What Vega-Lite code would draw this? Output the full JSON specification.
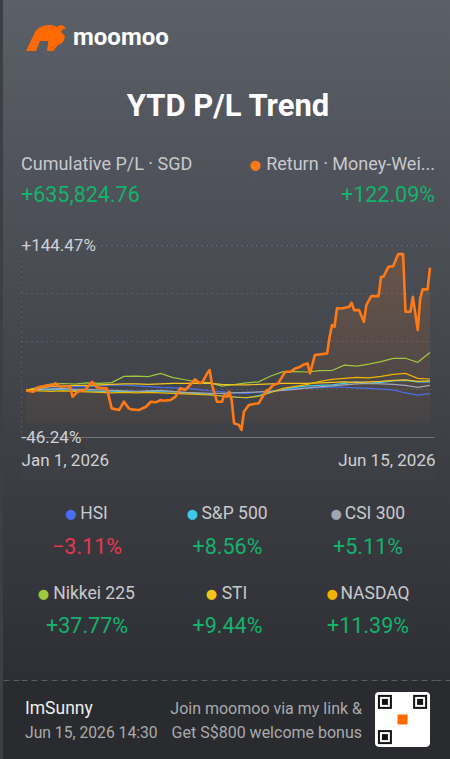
{
"$schema": "https://vega.github.io/schema/vega-lite/v6.json",
"padding": 0,
"background": "#3d3f45",
"spacing": 0,
"bounds": "flush",
"columns": 3,
"config": {"font": "Roboto", "view": {"stroke": null}, "text": {"font": "Roboto"}, "axis": {"labelFont": "Roboto"}},
"datasets": {
"ret": [
{"date":"2026-01-01","value":0},{"date":"2026-01-04","value":-1.3},{"date":"2026-01-06","value":3.1},{"date":"2026-01-09","value":4.7},{"date":"2026-01-12","value":5.4},{"date":"2026-01-13","value":7.1},{"date":"2026-01-15","value":3.7},{"date":"2026-01-17","value":4.4},{"date":"2026-01-19","value":3.7},{"date":"2026-01-20","value":-6.3},{"date":"2026-01-22","value":-1.3},{"date":"2026-01-25","value":0.4},{"date":"2026-01-28","value":8.6},{"date":"2026-01-30","value":3.1},{"date":"2026-02-01","value":2.1},{"date":"2026-02-03","value":2.1},{"date":"2026-02-05","value":-17.8},{"date":"2026-02-08","value":-19.5},{"date":"2026-02-10","value":-11.2},{"date":"2026-02-12","value":-17.8},{"date":"2026-02-13","value":-18.8},{"date":"2026-02-16","value":-19.5},{"date":"2026-02-19","value":-16.2},{"date":"2026-02-21","value":-11.2},{"date":"2026-02-23","value":-11.8},{"date":"2026-02-25","value":-9.5},{"date":"2026-02-26","value":-10.2},{"date":"2026-03-01","value":-9.5},{"date":"2026-03-03","value":-6.3},{"date":"2026-03-05","value":2.1},{"date":"2026-03-07","value":0.4},{"date":"2026-03-09","value":5.4},{"date":"2026-03-11","value":11},{"date":"2026-03-13","value":7.1},{"date":"2026-03-14","value":8},{"date":"2026-03-16","value":17},{"date":"2026-03-17","value":20.3},{"date":"2026-03-18","value":5.4},{"date":"2026-03-20","value":-11.2},{"date":"2026-03-22","value":-11.2},{"date":"2026-03-23","value":-4.6},{"date":"2026-03-24","value":-6.3},{"date":"2026-03-25","value":-1.3},{"date":"2026-03-26","value":-9.5},{"date":"2026-03-27","value":-32.7},{"date":"2026-03-29","value":-34.4},{"date":"2026-03-30","value":-39.3},{"date":"2026-03-31","value":-21.2},{"date":"2026-04-02","value":-14.5},{"date":"2026-04-04","value":-13.5},{"date":"2026-04-06","value":-12.8},{"date":"2026-04-08","value":-4.6},{"date":"2026-04-09","value":-0.3},{"date":"2026-04-10","value":0.4},{"date":"2026-04-12","value":5.4},{"date":"2026-04-14","value":7.1},{"date":"2026-04-16","value":15.3},{"date":"2026-04-17","value":18.6},{"date":"2026-04-19","value":18.6},{"date":"2026-04-21","value":21.9},{"date":"2026-04-23","value":23.5},{"date":"2026-04-24","value":25.2},{"date":"2026-04-26","value":26.9},{"date":"2026-04-27","value":17},{"date":"2026-04-29","value":35.2},{"date":"2026-05-02","value":36.1},{"date":"2026-05-04","value":36.8},{"date":"2026-05-05","value":53.3},{"date":"2026-05-06","value":65},{"date":"2026-05-07","value":63.3},{"date":"2026-05-08","value":81.5},{"date":"2026-05-10","value":81.5},{"date":"2026-05-13","value":83.1},{"date":"2026-05-14","value":87.1},{"date":"2026-05-15","value":79.8},{"date":"2026-05-17","value":79.8},{"date":"2026-05-19","value":68.2},{"date":"2026-05-20","value":84.8},{"date":"2026-05-22","value":93.7},{"date":"2026-05-25","value":93.7},{"date":"2026-05-26","value":112.9},{"date":"2026-05-27","value":112.9},{"date":"2026-05-29","value":122.8},{"date":"2026-05-31","value":123.5},{"date":"2026-06-02","value":135.4},{"date":"2026-06-04","value":135.4},{"date":"2026-06-05","value":78.1},{"date":"2026-06-07","value":78.1},{"date":"2026-06-08","value":93},{"date":"2026-06-10","value":60},{"date":"2026-06-11","value":91.5},{"date":"2026-06-12","value":100.4},{"date":"2026-06-14","value":100.4},{"date":"2026-06-15","value":122.09}
],
"idx": [
{"date":"2026-01-01","index":"HSI","value":0},{"date":"2026-01-06","index":"HSI","value":1.5},{"date":"2026-01-11","index":"HSI","value":3.5},{"date":"2026-01-16","index":"HSI","value":3.6},{"date":"2026-01-21","index":"HSI","value":3.7},{"date":"2026-01-26","index":"HSI","value":3.8},{"date":"2026-01-31","index":"HSI","value":4.5},{"date":"2026-02-05","index":"HSI","value":5.2},{"date":"2026-02-10","index":"HSI","value":5.4},{"date":"2026-02-15","index":"HSI","value":4.5},{"date":"2026-02-20","index":"HSI","value":3.8},{"date":"2026-02-25","index":"HSI","value":3},{"date":"2026-03-02","index":"HSI","value":2.5},{"date":"2026-03-07","index":"HSI","value":2.1},{"date":"2026-03-12","index":"HSI","value":1},{"date":"2026-03-17","index":"HSI","value":-0.3},{"date":"2026-03-22","index":"HSI","value":-1.3},{"date":"2026-03-27","index":"HSI","value":-2.2},{"date":"2026-04-01","index":"HSI","value":-2.9},{"date":"2026-04-06","index":"HSI","value":-1.8},{"date":"2026-04-11","index":"HSI","value":-0.6},{"date":"2026-04-16","index":"HSI","value":0.6},{"date":"2026-04-21","index":"HSI","value":2},{"date":"2026-04-26","index":"HSI","value":2.3},{"date":"2026-05-01","index":"HSI","value":2.8},{"date":"2026-05-06","index":"HSI","value":3.5},{"date":"2026-05-11","index":"HSI","value":3.2},{"date":"2026-05-16","index":"HSI","value":2.6},{"date":"2026-05-21","index":"HSI","value":2.1},{"date":"2026-05-26","index":"HSI","value":1.3},{"date":"2026-05-31","index":"HSI","value":0.5},{"date":"2026-06-05","index":"HSI","value":-2.5},{"date":"2026-06-10","index":"HSI","value":-4.6},{"date":"2026-06-15","index":"HSI","value":-3.11},
{"date":"2026-01-01","index":"S&P 500","value":0},{"date":"2026-01-06","index":"S&P 500","value":0.5},{"date":"2026-01-11","index":"S&P 500","value":0.8},{"date":"2026-01-16","index":"S&P 500","value":0.5},{"date":"2026-01-21","index":"S&P 500","value":0},{"date":"2026-01-26","index":"S&P 500","value":-0.5},{"date":"2026-01-31","index":"S&P 500","value":-1},{"date":"2026-02-05","index":"S&P 500","value":-1.3},{"date":"2026-02-10","index":"S&P 500","value":-1},{"date":"2026-02-15","index":"S&P 500","value":-1.5},{"date":"2026-02-20","index":"S&P 500","value":-1},{"date":"2026-02-25","index":"S&P 500","value":-1.3},{"date":"2026-03-02","index":"S&P 500","value":-1.5},{"date":"2026-03-07","index":"S&P 500","value":-2.5},{"date":"2026-03-12","index":"S&P 500","value":-3},{"date":"2026-03-17","index":"S&P 500","value":-4},{"date":"2026-03-22","index":"S&P 500","value":-5.5},{"date":"2026-03-27","index":"S&P 500","value":-6.5},{"date":"2026-04-01","index":"S&P 500","value":-7.5},{"date":"2026-04-06","index":"S&P 500","value":-5},{"date":"2026-04-11","index":"S&P 500","value":-1.5},{"date":"2026-04-16","index":"S&P 500","value":1},{"date":"2026-04-21","index":"S&P 500","value":3},{"date":"2026-04-26","index":"S&P 500","value":4.5},{"date":"2026-05-01","index":"S&P 500","value":5},{"date":"2026-05-06","index":"S&P 500","value":5.5},{"date":"2026-05-11","index":"S&P 500","value":7},{"date":"2026-05-16","index":"S&P 500","value":8.5},{"date":"2026-05-21","index":"S&P 500","value":7},{"date":"2026-05-26","index":"S&P 500","value":8},{"date":"2026-05-31","index":"S&P 500","value":9.5},{"date":"2026-06-05","index":"S&P 500","value":10},{"date":"2026-06-10","index":"S&P 500","value":8.5},{"date":"2026-06-15","index":"S&P 500","value":8.56},
{"date":"2026-01-01","index":"CSI 300","value":0},{"date":"2026-01-06","index":"CSI 300","value":1},{"date":"2026-01-11","index":"CSI 300","value":1.5},{"date":"2026-01-16","index":"CSI 300","value":2},{"date":"2026-01-21","index":"CSI 300","value":1},{"date":"2026-01-26","index":"CSI 300","value":1},{"date":"2026-01-31","index":"CSI 300","value":0.5},{"date":"2026-02-05","index":"CSI 300","value":0},{"date":"2026-02-10","index":"CSI 300","value":-0.5},{"date":"2026-02-15","index":"CSI 300","value":-1},{"date":"2026-02-20","index":"CSI 300","value":-0.5},{"date":"2026-02-25","index":"CSI 300","value":0},{"date":"2026-03-02","index":"CSI 300","value":-1},{"date":"2026-03-07","index":"CSI 300","value":-2},{"date":"2026-03-12","index":"CSI 300","value":-2.5},{"date":"2026-03-17","index":"CSI 300","value":-3},{"date":"2026-03-22","index":"CSI 300","value":-3},{"date":"2026-03-27","index":"CSI 300","value":-2.5},{"date":"2026-04-01","index":"CSI 300","value":-2},{"date":"2026-04-06","index":"CSI 300","value":-1.5},{"date":"2026-04-11","index":"CSI 300","value":-1},{"date":"2026-04-16","index":"CSI 300","value":0},{"date":"2026-04-21","index":"CSI 300","value":1},{"date":"2026-04-26","index":"CSI 300","value":2.5},{"date":"2026-05-01","index":"CSI 300","value":3.5},{"date":"2026-05-06","index":"CSI 300","value":4.5},{"date":"2026-05-11","index":"CSI 300","value":5.5},{"date":"2026-05-16","index":"CSI 300","value":6.5},{"date":"2026-05-21","index":"CSI 300","value":7},{"date":"2026-05-26","index":"CSI 300","value":6.5},{"date":"2026-05-31","index":"CSI 300","value":6},{"date":"2026-06-05","index":"CSI 300","value":5},{"date":"2026-06-10","index":"CSI 300","value":3},{"date":"2026-06-15","index":"CSI 300","value":5.11},
{"date":"2026-01-01","index":"Nikkei 225","value":0},{"date":"2026-01-06","index":"Nikkei 225","value":3.4},{"date":"2026-01-11","index":"Nikkei 225","value":6.4},{"date":"2026-01-16","index":"Nikkei 225","value":6.9},{"date":"2026-01-21","index":"Nikkei 225","value":6.4},{"date":"2026-01-26","index":"Nikkei 225","value":7.6},{"date":"2026-01-31","index":"Nikkei 225","value":7},{"date":"2026-02-05","index":"Nikkei 225","value":7.8},{"date":"2026-02-10","index":"Nikkei 225","value":14},{"date":"2026-02-15","index":"Nikkei 225","value":14.3},{"date":"2026-02-20","index":"Nikkei 225","value":13.8},{"date":"2026-02-25","index":"Nikkei 225","value":17},{"date":"2026-03-02","index":"Nikkei 225","value":12.8},{"date":"2026-03-07","index":"Nikkei 225","value":10.6},{"date":"2026-03-12","index":"Nikkei 225","value":8.3},{"date":"2026-03-17","index":"Nikkei 225","value":7.8},{"date":"2026-03-22","index":"Nikkei 225","value":4.4},{"date":"2026-03-27","index":"Nikkei 225","value":5.9},{"date":"2026-04-01","index":"Nikkei 225","value":7.5},{"date":"2026-04-06","index":"Nikkei 225","value":8.6},{"date":"2026-04-11","index":"Nikkei 225","value":14.3},{"date":"2026-04-16","index":"Nikkei 225","value":18.6},{"date":"2026-04-21","index":"Nikkei 225","value":18.6},{"date":"2026-04-26","index":"Nikkei 225","value":18.3},{"date":"2026-05-01","index":"Nikkei 225","value":19.6},{"date":"2026-05-06","index":"Nikkei 225","value":19.8},{"date":"2026-05-11","index":"Nikkei 225","value":25.2},{"date":"2026-05-16","index":"Nikkei 225","value":24.2},{"date":"2026-05-21","index":"Nikkei 225","value":26.2},{"date":"2026-05-26","index":"Nikkei 225","value":28.7},{"date":"2026-05-31","index":"Nikkei 225","value":31.9},{"date":"2026-06-05","index":"Nikkei 225","value":32},{"date":"2026-06-10","index":"Nikkei 225","value":28},{"date":"2026-06-15","index":"Nikkei 225","value":37.77},
{"date":"2026-01-01","index":"STI","value":0},{"date":"2026-01-06","index":"STI","value":2},{"date":"2026-01-11","index":"STI","value":4},{"date":"2026-01-16","index":"STI","value":4.5},{"date":"2026-01-21","index":"STI","value":5},{"date":"2026-01-26","index":"STI","value":5},{"date":"2026-01-31","index":"STI","value":5.5},{"date":"2026-02-05","index":"STI","value":6},{"date":"2026-02-10","index":"STI","value":6.5},{"date":"2026-02-15","index":"STI","value":6.5},{"date":"2026-02-20","index":"STI","value":6},{"date":"2026-02-25","index":"STI","value":6.5},{"date":"2026-03-02","index":"STI","value":7},{"date":"2026-03-07","index":"STI","value":7},{"date":"2026-03-12","index":"STI","value":7},{"date":"2026-03-17","index":"STI","value":7},{"date":"2026-03-22","index":"STI","value":6},{"date":"2026-03-27","index":"STI","value":5.5},{"date":"2026-04-01","index":"STI","value":5.5},{"date":"2026-04-06","index":"STI","value":6},{"date":"2026-04-11","index":"STI","value":6.5},{"date":"2026-04-16","index":"STI","value":7},{"date":"2026-04-21","index":"STI","value":7},{"date":"2026-04-26","index":"STI","value":7},{"date":"2026-05-01","index":"STI","value":7.5},{"date":"2026-05-06","index":"STI","value":8},{"date":"2026-05-11","index":"STI","value":8.5},{"date":"2026-05-16","index":"STI","value":8},{"date":"2026-05-21","index":"STI","value":8.5},{"date":"2026-05-26","index":"STI","value":9},{"date":"2026-05-31","index":"STI","value":10},{"date":"2026-06-05","index":"STI","value":10.5},{"date":"2026-06-10","index":"STI","value":9},{"date":"2026-06-15","index":"STI","value":9.44},
{"date":"2026-01-01","index":"NASDAQ","value":0},{"date":"2026-01-06","index":"NASDAQ","value":-0.5},{"date":"2026-01-11","index":"NASDAQ","value":-1},{"date":"2026-01-16","index":"NASDAQ","value":-0.5},{"date":"2026-01-21","index":"NASDAQ","value":-1},{"date":"2026-01-26","index":"NASDAQ","value":-1.5},{"date":"2026-01-31","index":"NASDAQ","value":-2},{"date":"2026-02-05","index":"NASDAQ","value":-2.5},{"date":"2026-02-10","index":"NASDAQ","value":-2},{"date":"2026-02-15","index":"NASDAQ","value":-2.5},{"date":"2026-02-20","index":"NASDAQ","value":-2},{"date":"2026-02-25","index":"NASDAQ","value":-2.5},{"date":"2026-03-02","index":"NASDAQ","value":-3},{"date":"2026-03-07","index":"NASDAQ","value":-3.5},{"date":"2026-03-12","index":"NASDAQ","value":-4},{"date":"2026-03-17","index":"NASDAQ","value":-4.5},{"date":"2026-03-22","index":"NASDAQ","value":-5.5},{"date":"2026-03-27","index":"NASDAQ","value":-6.5},{"date":"2026-04-01","index":"NASDAQ","value":-7},{"date":"2026-04-06","index":"NASDAQ","value":-6},{"date":"2026-04-11","index":"NASDAQ","value":-2},{"date":"2026-04-16","index":"NASDAQ","value":2},{"date":"2026-04-21","index":"NASDAQ","value":4},{"date":"2026-04-26","index":"NASDAQ","value":6},{"date":"2026-05-01","index":"NASDAQ","value":9},{"date":"2026-05-06","index":"NASDAQ","value":11},{"date":"2026-05-11","index":"NASDAQ","value":12},{"date":"2026-05-16","index":"NASDAQ","value":13},{"date":"2026-05-21","index":"NASDAQ","value":12.5},{"date":"2026-05-26","index":"NASDAQ","value":14},{"date":"2026-05-31","index":"NASDAQ","value":16},{"date":"2026-06-05","index":"NASDAQ","value":17},{"date":"2026-06-10","index":"NASDAQ","value":12},{"date":"2026-06-15","index":"NASDAQ","value":11.39}
],
"stats": [
{"index":"HSI","row":1,"col":"c1","ret":-0.0311},{"index":"S&P 500","row":1,"col":"c2","ret":0.0856},{"index":"CSI 300","row":1,"col":"c3","ret":0.0511},
{"index":"Nikkei 225","row":2,"col":"c1","ret":0.3777},{"index":"STI","row":2,"col":"c2","ret":0.0944},{"index":"NASDAQ","row":2,"col":"c3","ret":0.1139}
],
"header": [
{"side":"L","line":"label","text":"Cumulative P/L · SGD"},{"side":"R","line":"label","text":"Return · Money-Wei..."},
{"side":"L","line":"value","text":"+635,824.76"},{"side":"R","line":"value","text":"+122.09%"}
],
"footer": [
{"side":"left","line":"l1","text":"ImSunny"},{"side":"left","line":"l2","text":"Jun 15, 2026 14:30"},
{"side":"right","line":"l1","text":"Join moomoo via my link &"},{"side":"right","line":"l2","text":"Get S$800 welcome bonus"}
],
"qr": [{"qx":"a","qy":"a"},{"qx":"c","qy":"a"},{"qx":"a","qy":"c"}]
},
"concat": [
{"width":18,"height":76,"view":{"stroke":null,"fill":{"gradient":"linear","x1":0,"y1":0,"x2":0,"y2":1,"stops":[{"offset":0,"color":"#5b5f67"},{"offset":1,"color":"#565a61"}]}},"data":{"values":[{}]},"mark":{"type":"point","opacity":0},"encoding":{}},
{
"width": 414, "height": 76,
"view": {"stroke": null, "fill": {"gradient":"linear","x1":0,"y1":0,"x2":0,"y2":1,"stops":[{"offset":0,"color":"#5b5f67"},{"offset":1,"color":"#565a61"}]}},
"data": {"values": [{"part":"icon","name":"logo"},{"part":"word","name":"moomoo"}]},
"encoding": {"x": {"field":"part","type":"nominal","scale":{"type":"point","domain":["icon","word","k3","k4","k5","k6","k7","k8","k9","k10","k11","k12","k13","k14","k15"],"padding":0.667,"align":0.694},"axis":null}},
"layer": [
{"transform":[{"filter":"datum.part == 'icon'"}],
 "mark": {"type":"point","filled":true,"opacity":1,"color":"#ff6a00","size":1600,
 "shape":"M -1 0.65 L -0.55 -0.3 Q -0.4 -0.55 -0.05 -0.62 Q 0.35 -0.7 0.55 -0.55 Q 0.75 -0.78 1 -0.5 Q 0.8 -0.45 0.75 -0.3 L 0.95 -0.1 Q 0.9 0.3 0.6 0.35 L 0.35 0.65 L 0.05 0.65 L 0.12 0.15 L -0.3 0.15 L -0.5 0.65 Z"}},
{"transform":[{"filter":"datum.part == 'word'"}],
 "mark": {"type":"text","align":"left","baseline":"middle","fontSize":24,"fontWeight":"bold","color":"#ffffff"},
 "encoding": {"text": {"field":"name"}}}
]
},
{"width":18,"height":76,"view":{"stroke":null,"fill":{"gradient":"linear","x1":0,"y1":0,"x2":0,"y2":1,"stops":[{"offset":0,"color":"#5b5f67"},{"offset":1,"color":"#565a61"}]}},"data":{"values":[{}]},"mark":{"type":"point","opacity":0},"encoding":{}},

{"width":18,"height":62,"view":{"stroke":null,"fill":{"gradient":"linear","x1":0,"y1":0,"x2":0,"y2":1,"stops":[{"offset":0,"color":"#565a61"},{"offset":1,"color":"#52555d"}]}},"data":{"values":[{}]},"mark":{"type":"point","opacity":0},"encoding":{}},
{
"width": 414, "height": 62,
"view": {"stroke": null, "fill": {"gradient":"linear","x1":0,"y1":0,"x2":0,"y2":1,"stops":[{"offset":0,"color":"#565a61"},{"offset":1,"color":"#52555d"}]}},
"data": {"values": [{"title":"YTD P/L Trend"}]},
"mark": {"type":"text","fontSize":31,"fontWeight":"bold","color":"#ffffff","baseline":"middle"},
"encoding": {"text": {"field":"title"}}
},
{"width":18,"height":62,"view":{"stroke":null,"fill":{"gradient":"linear","x1":0,"y1":0,"x2":0,"y2":1,"stops":[{"offset":0,"color":"#565a61"},{"offset":1,"color":"#52555d"}]}},"data":{"values":[{}]},"mark":{"type":"point","opacity":0},"encoding":{}},

{"width":18,"height":107,"view":{"stroke":null,"fill":{"gradient":"linear","x1":0,"y1":0,"x2":0,"y2":1,"stops":[{"offset":0,"color":"#52555d"},{"offset":1,"color":"#4b4e55"}]}},"data":{"values":[{}]},"mark":{"type":"point","opacity":0},"encoding":{}},
{
"width": 414, "height": 107,
"view": {"stroke": null, "fill": {"gradient":"linear","x1":0,"y1":0,"x2":0,"y2":1,"stops":[{"offset":0,"color":"#52555d"},{"offset":1,"color":"#4b4e55"}]}},
"data": {"name": "header"},
"encoding": {
 "x": {"field":"side","type":"nominal","scale":{"type":"point","domain":["L","R"],"padding":0,"align":0.5},"axis":null},
 "y": {"field":"line","type":"nominal","scale":{"type":"point","domain":["label","value","pad"],"padding":0.7258,"align":0.6},"axis":null}
},
"layer": [
{"transform":[{"filter":"datum.side == 'L' && datum.line == 'label'"}],
 "mark": {"type":"text","align":"left","baseline":"middle","fontSize":18,"color":"#c8c9cc"},
 "encoding": {"text": {"field":"text"}}},
{"transform":[{"filter":"datum.side == 'R' && datum.line == 'label'"}],
 "mark": {"type":"text","text":"●","font":"DejaVu Sans","fontSize":13,"align":"center","baseline":"middle","color":"#ff7a14","dx":{"expr":"-(7.9*length(datum.text) + 14)"}}},
{"transform":[{"filter":"datum.side == 'R' && datum.line == 'label'"}],
 "mark": {"type":"text","align":"right","baseline":"middle","fontSize":18,"color":"#c8c9cc"},
 "encoding": {"text": {"field":"text"}}},
{"transform":[{"filter":"datum.side == 'L' && datum.line == 'value'"}],
 "mark": {"type":"text","align":"left","baseline":"middle","fontSize":21.5,"color":"#12b36b"},
 "encoding": {"text": {"field":"text"}}},
{"transform":[{"filter":"datum.side == 'R' && datum.line == 'value'"}],
 "mark": {"type":"text","align":"right","baseline":"middle","fontSize":21.5,"color":"#12b36b"},
 "encoding": {"text": {"field":"text"}}}
]
},
{"width":18,"height":107,"view":{"stroke":null,"fill":{"gradient":"linear","x1":0,"y1":0,"x2":0,"y2":1,"stops":[{"offset":0,"color":"#52555d"},{"offset":1,"color":"#4b4e55"}]}},"data":{"values":[{}]},"mark":{"type":"point","opacity":0},"encoding":{}},

{"width":18,"height":235,"view":{"stroke":null,"fill":{"gradient":"linear","x1":0,"y1":0,"x2":0,"y2":1,"stops":[{"offset":0,"color":"#4b4e55"},{"offset":1,"color":"#3b3d43"}]}},"data":{"values":[{}]},"mark":{"type":"point","opacity":0},"encoding":{}},
{
"width": 414, "height": 192,
"view": {"fill": {"gradient":"linear","x1":0,"y1":0,"x2":0,"y2":1,"stops":[{"offset":0,"color":"#4b4e55"},{"offset":1,"color":"#3e4046"}]}, "stroke":"#6c7078","strokeDash":[1,4],"strokeWidth":1},
"encoding": {
 "x": {"field":"date","type":"temporal","scale":{"type":"utc","domain":[{"year":2026,"month":1,"date":1,"utc":true},{"year":2026,"month":6,"date":15,"utc":true}],"padding":5,"nice":false},
  "axis": {"values":[{"year":2026,"month":1,"date":1,"utc":true},{"year":2026,"month":6,"date":15,"utc":true}],"format":"%b %-d, %Y","labelFlush":6,"labelFlushOffset":5,"grid":false,"ticks":false,"tickSize":0,"domain":true,"domainColor":"#6f737a","domainWidth":1,"labelPadding":15,"labelBaseline":"top","labelFontSize":17,"labelColor":"#d0d1d4","title":null,"labelOverlap":false}},
 "y": {"field":"value","type":"quantitative","scale":{"domain":[-46.24,144.47],"nice":false,"zero":false},
  "axis": {"values":[144.47,96.7975,49.125,1.4525,-46.24],"labelExpr":"datum.value > 100 ? '+144.47%' : datum.value < -40 ? '-46.24%' : ''","grid":true,"gridDash":[1,4],"gridColor":"#6c7078","gridWidth":1,"domain":false,"ticks":false,"tickSize":0,"labelAlign":"left","labelPadding":0,"labelBaseline":"middle","labelFontSize":17,"labelColor":"#d0d1d4","title":null,"labelOverlap":false,"labelBound":false}}
},
"layer": [
{"data": {"name":"ret"},
 "mark": {"type":"area","line":false,"color":{"gradient":"linear","x1":0,"y1":0,"x2":0,"y2":1,"stops":[{"offset":0,"color":"rgba(255,122,20,0.17)"},{"offset":1,"color":"rgba(255,122,20,0.03)"}]}},
 "encoding": {"y2": {"datum": -32}}},
{"data": {"name":"idx"},
 "mark": {"type":"line","strokeWidth":1.2},
 "encoding": {"color": {"field":"index","type":"nominal","scale":{"domain":["HSI","S&P 500","CSI 300","Nikkei 225","STI","NASDAQ"],"range":["#4a6ef0","#3cc8e6","#a0a5b4","#a0c83c","#f5c31e","#f0b400"]},"legend":null}}},
{"data": {"name":"ret"},
 "mark": {"type":"line","color":"#ff7a14","strokeWidth":2.6,"strokeJoin":"round"}}
]
},
{"width":18,"height":235,"view":{"stroke":null,"fill":{"gradient":"linear","x1":0,"y1":0,"x2":0,"y2":1,"stops":[{"offset":0,"color":"#4b4e55"},{"offset":1,"color":"#3b3d43"}]}},"data":{"values":[{}]},"mark":{"type":"point","opacity":0},"encoding":{}},

{"width":18,"height":100,"view":{"stroke":null,"fill":{"gradient":"linear","x1":0,"y1":0,"x2":0,"y2":1,"stops":[{"offset":0,"color":"#3b3d43"},{"offset":1,"color":"#35363c"}]}},"data":{"values":[{}]},"mark":{"type":"point","opacity":0},"encoding":{}},
{
"width": 414, "height": 100,
"view": {"stroke": null, "fill": {"gradient":"linear","x1":0,"y1":0,"x2":0,"y2":1,"stops":[{"offset":0,"color":"#3b3d43"},{"offset":1,"color":"#35363c"}]}},
"data": {"name": "stats"},
"transform": [{"filter":"datum.row == 1"}],
"encoding": {"x": {"field":"col","type":"nominal","scale":{"type":"point","domain":["c1","c2","c3"],"padding":0.4733,"align":0.4962},"axis":null}},
"layer": [
{"mark": {"type":"text","text":"●","font":"DejaVu Sans","fontSize":13,"align":"center","baseline":"middle","dx":{"expr":"-3 - (7.8*length(datum.index) + 3.1*length(replace(datum.index, /[^A-Z&]/g, '')) - 6.5*length(replace(datum.index, /[^I]/g, '')))/2"}},
 "encoding": {"y": {"datum":"label","type":"nominal","scale":{"type":"point","domain":["label","value"],"padding":0.9706,"align":0.5152},"axis":null},
  "color": {"field":"index","type":"nominal","scale":{"domain":["HSI","S&P 500","CSI 300","Nikkei 225","STI","NASDAQ"],"range":["#4a6ef0","#3cc8e6","#a0a5b4","#a0c83c","#f5c31e","#f0b400"]},"legend":null}}},
{"mark": {"type":"text","align":"center","baseline":"middle","fontSize":17.5,"dx":7,"color":"#c8c9cc"},
 "encoding": {"y": {"datum":"label","type":"nominal","scale":{"type":"point","domain":["label","value"],"padding":0.9706,"align":0.5152},"axis":null},
  "text": {"field":"index"}}},
{"mark": {"type":"text","align":"center","baseline":"middle","fontSize":21.5},
 "encoding": {"y": {"datum":"value","type":"nominal","scale":{"type":"point","domain":["label","value"],"padding":0.9706,"align":0.5152},"axis":null},
  "text": {"field":"ret","type":"quantitative","format":"+.2%"},
  "color": {"condition":{"test":"datum.ret < 0","value":"#e8364f"},"value":"#12b36b"}}}
]
},
{"width":18,"height":100,"view":{"stroke":null,"fill":{"gradient":"linear","x1":0,"y1":0,"x2":0,"y2":1,"stops":[{"offset":0,"color":"#3b3d43"},{"offset":1,"color":"#35363c"}]}},"data":{"values":[{}]},"mark":{"type":"point","opacity":0},"encoding":{}},

{"width":18,"height":100,"view":{"stroke":null,"fill":{"gradient":"linear","x1":0,"y1":0,"x2":0,"y2":1,"stops":[{"offset":0,"color":"#35363c"},{"offset":1,"color":"#2e2f34"}]}},"data":{"values":[{}]},"mark":{"type":"point","opacity":0},"encoding":{}},
{
"width": 414, "height": 100,
"view": {"stroke": null, "fill": {"gradient":"linear","x1":0,"y1":0,"x2":0,"y2":1,"stops":[{"offset":0,"color":"#35363c"},{"offset":1,"color":"#2e2f34"}]}},
"data": {"name": "stats"},
"transform": [{"filter":"datum.row == 2"}],
"encoding": {"x": {"field":"col","type":"nominal","scale":{"type":"point","domain":["c1","c2","c3"],"padding":0.4733,"align":0.4962},"axis":null}},
"layer": [
{"mark": {"type":"text","text":"●","font":"DejaVu Sans","fontSize":13,"align":"center","baseline":"middle","dx":{"expr":"-3 - (7.8*length(datum.index) + 3.1*length(replace(datum.index, /[^A-Z&]/g, '')) - 6.5*length(replace(datum.index, /[^I]/g, '')))/2"}},
 "encoding": {"y": {"datum":"label","type":"nominal","scale":{"type":"point","domain":["label","value"],"padding":1,"align":0.21},"axis":null},
  "color": {"field":"index","type":"nominal","scale":{"domain":["HSI","S&P 500","CSI 300","Nikkei 225","STI","NASDAQ"],"range":["#4a6ef0","#3cc8e6","#a0a5b4","#a0c83c","#f5c31e","#f0b400"]},"legend":null}}},
{"mark": {"type":"text","align":"center","baseline":"middle","fontSize":17.5,"dx":7,"color":"#c8c9cc"},
 "encoding": {"y": {"datum":"label","type":"nominal","scale":{"type":"point","domain":["label","value"],"padding":1,"align":0.21},"axis":null},
  "text": {"field":"index"}}},
{"mark": {"type":"text","align":"center","baseline":"middle","fontSize":21.5},
 "encoding": {"y": {"datum":"value","type":"nominal","scale":{"type":"point","domain":["label","value"],"padding":1,"align":0.21},"axis":null},
  "text": {"field":"ret","type":"quantitative","format":"+.2%"},
  "color": {"condition":{"test":"datum.ret < 0","value":"#e8364f"},"value":"#12b36b"}}}
]
},
{"width":18,"height":100,"view":{"stroke":null,"fill":{"gradient":"linear","x1":0,"y1":0,"x2":0,"y2":1,"stops":[{"offset":0,"color":"#35363c"},{"offset":1,"color":"#2e2f34"}]}},"data":{"values":[{}]},"mark":{"type":"point","opacity":0},"encoding":{}},

{"width":18,"height":79,"view":{"stroke":null,"fill":"#2a2b2f"},"data":{"values":[{}]},"mark":{"type":"point","opacity":0},
 "encoding":{"x":{"datum":0,"type":"quantitative","scale":{"domain":[0,1]},"axis":{"orient":"top","domain":true,"domainDash":[6,4],"domainColor":"#5a5d63","domainWidth":1,"labels":false,"ticks":false,"grid":false,"title":null}}}},
{
"width": 414, "height": 79,
"view": {"stroke": null, "fill": "#2a2b2f"},
"resolve": {"scale": {"x":"independent","y":"independent"}, "axis": {"x":"independent","y":"independent"}},
"layer": [
{"data": {"name":"footer"},
 "transform": [{"filter":"datum.side == 'left' && datum.line == 'l1'"}],
 "mark": {"type":"text","align":"left","baseline":"middle","fontSize":17.5,"color":"#eeeeee"},
 "encoding": {
  "x": {"field":"side","type":"nominal","scale":{"type":"point","domain":["left","right"],"padding":0.1142,"align":0.0519},
   "axis": {"orient":"top","domain":true,"domainDash":[6,4],"domainColor":"#5a5d63","domainWidth":1,"labels":false,"ticks":false,"grid":false,"title":null}},
  "y": {"field":"line","type":"nominal","scale":{"type":"point","domain":["l1","l2","pad"],"padding":0.6458,"align":0.9355},"axis":null},
  "text": {"field":"text"}}},
{"data": {"name":"footer"},
 "transform": [{"filter":"datum.side == 'left' && datum.line == 'l2'"}],
 "mark": {"type":"text","align":"left","baseline":"middle","fontSize":15.7,"color":"#a9aaae"},
 "encoding": {
  "x": {"field":"side","type":"nominal","scale":{"type":"point","domain":["left","right"],"padding":0.1142,"align":0.0519},"axis":null},
  "y": {"field":"line","type":"nominal","scale":{"type":"point","domain":["l1","l2","pad"],"padding":0.6458,"align":0.9355},"axis":null},
  "text": {"field":"text"}}},
{"data": {"name":"footer"},
 "transform": [{"filter":"datum.side == 'right'"}],
 "mark": {"type":"text","align":"right","baseline":"middle","fontSize":16,"color":"#a9aaae"},
 "encoding": {
  "x": {"field":"side","type":"nominal","scale":{"type":"point","domain":["left","right"],"padding":0.1142,"align":0.0519},"axis":null},
  "y": {"field":"line","type":"nominal","scale":{"type":"point","domain":["l1","l2","pad"],"padding":0.6458,"align":0.9355},"axis":null},
  "text": {"field":"text"}}},
{"data": {"values":[{"qx":"m","qy":"m"}]},
 "mark": {"type":"point","filled":true,"opacity":1,"color":"#ffffff","size":3025,"shape":"M -0.85 -1 H 0.85 Q 1 -1 1 -0.85 V 0.85 Q 1 1 0.85 1 H -0.85 Q -1 1 -1 0.85 V -0.85 Q -1 -1 -0.85 -1 Z"},
 "encoding": {
  "x": {"field":"qx","type":"nominal","scale":{"type":"point","domain":["q1","q2","q3","q4","q5","q6","q7","q8","q9","q10","q11","q12","q13","q14","q15","q16","q17","q18","q19","q20","a","m","c"],"padding":0.76,"align":0.444},"axis":null},
  "y": {"field":"qy","type":"nominal","scale":{"type":"point","domain":["a","m","c","q"],"padding":0.744,"align":0.836},"axis":null}}},
{"data": {"name":"qr"},
 "mark": {"type":"point","shape":"square","filled":true,"opacity":1,"color":"#111111","size":196},
 "encoding": {
  "x": {"field":"qx","type":"nominal","scale":{"type":"point","domain":["q1","q2","q3","q4","q5","q6","q7","q8","q9","q10","q11","q12","q13","q14","q15","q16","q17","q18","q19","q20","a","m","c"],"padding":0.76,"align":0.444},"axis":null},
  "y": {"field":"qy","type":"nominal","scale":{"type":"point","domain":["a","m","c","q"],"padding":0.744,"align":0.836},"axis":null}}},
{"data": {"name":"qr"},
 "mark": {"type":"point","shape":"square","filled":true,"opacity":1,"color":"#ffffff","size":100},
 "encoding": {
  "x": {"field":"qx","type":"nominal","scale":{"type":"point","domain":["q1","q2","q3","q4","q5","q6","q7","q8","q9","q10","q11","q12","q13","q14","q15","q16","q17","q18","q19","q20","a","m","c"],"padding":0.76,"align":0.444},"axis":null},
  "y": {"field":"qy","type":"nominal","scale":{"type":"point","domain":["a","m","c","q"],"padding":0.744,"align":0.836},"axis":null}}},
{"data": {"name":"qr"},
 "mark": {"type":"point","shape":"square","filled":true,"opacity":1,"color":"#111111","size":36},
 "encoding": {
  "x": {"field":"qx","type":"nominal","scale":{"type":"point","domain":["q1","q2","q3","q4","q5","q6","q7","q8","q9","q10","q11","q12","q13","q14","q15","q16","q17","q18","q19","q20","a","m","c"],"padding":0.76,"align":0.444},"axis":null},
  "y": {"field":"qy","type":"nominal","scale":{"type":"point","domain":["a","m","c","q"],"padding":0.744,"align":0.836},"axis":null}}},
{"data": {"values":[{"qx":"m","qy":"m"}]},
 "mark": {"type":"point","shape":"square","filled":true,"opacity":1,"color":"#ff6a00","size":100},
 "encoding": {
  "x": {"field":"qx","type":"nominal","scale":{"type":"point","domain":["q1","q2","q3","q4","q5","q6","q7","q8","q9","q10","q11","q12","q13","q14","q15","q16","q17","q18","q19","q20","a","m","c"],"padding":0.76,"align":0.444},"axis":null},
  "y": {"field":"qy","type":"nominal","scale":{"type":"point","domain":["a","m","c","q"],"padding":0.744,"align":0.836},"axis":null}}}
]
},
{"width":18,"height":79,"view":{"stroke":null,"fill":"#2a2b2f"},"data":{"values":[{}]},"mark":{"type":"point","opacity":0},
 "encoding":{"x":{"datum":0,"type":"quantitative","scale":{"domain":[0,1]},"axis":{"orient":"top","domain":true,"domainDash":[6,4],"domainColor":"#5a5d63","domainWidth":1,"labels":false,"ticks":false,"grid":false,"title":null}}}}
]
}
